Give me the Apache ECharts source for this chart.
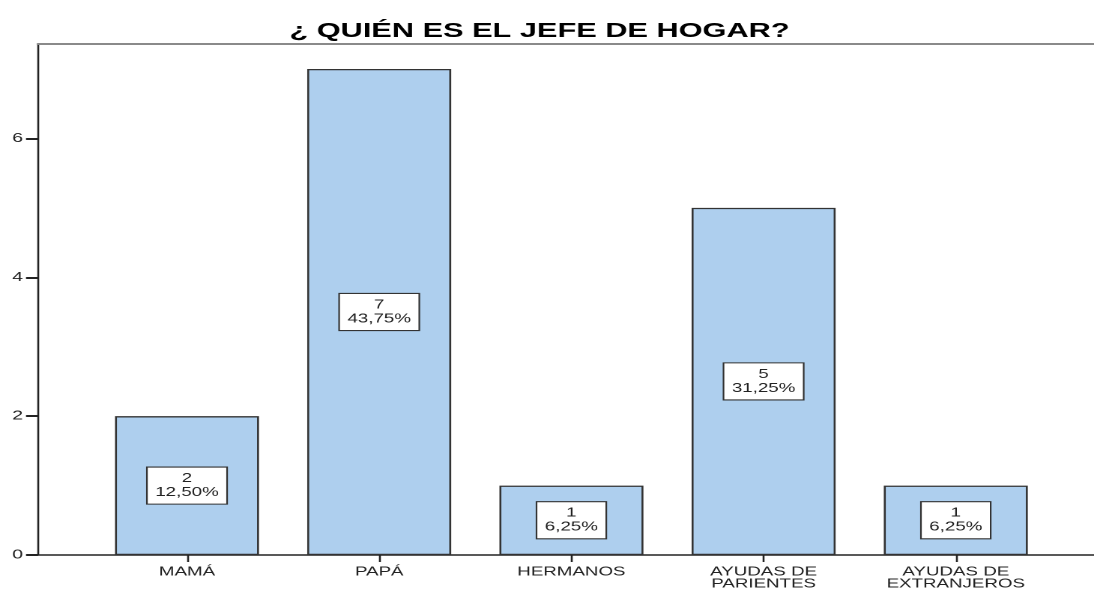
<!DOCTYPE html>
<html>
<head>
<meta charset="utf-8">
<script src="https://cdn.jsdelivr.net/npm/echarts@6/dist/echarts.min.js"></script>
<style>
  html, body { margin: 0; padding: 0; background: #fff; overflow: hidden; }
  /* the original output is stretched sideways, so draw narrow and widen */
  #chart1 { width: 730px; height: 592px; transform: scaleX(1.49863); transform-origin: 0 0; }
</style>
</head>
<body>
<div id="chart1"></div>
<script>
var categories = ["MAMÁ", "PAPÁ", "HERMANOS", "AYUDAS DE\nPARIENTES", "AYUDAS DE\nEXTRANJEROS"];
var counts = [2, 7, 1, 5, 1];
var percents = ["12,50%", "43,75%", "6,25%", "31,25%", "6,25%"];
var yTicks = [0, 2, 4, 6];

var sx = 1094 / 730; // horizontal stretch
var yMax = 7.36;

var chart_chart1 = echarts.init(document.getElementById("chart1"), null, {
  renderer: "canvas",
  devicePixelRatio: 2,
});

var option_chart1 = {
  animation: false,
  backgroundColor: "#ffffff",
  textStyle: { fontFamily: "Liberation Sans, Arial, sans-serif" },
  title: {
    text: "¿ QUIÉN ES EL JEFE DE HOGAR?",
    left: 532 / sx,
    textAlign: "center",
    top: 16,
    textStyle: { fontSize: 20.5, fontWeight: "bold", color: "#000" },
  },
  grid: [
    { left: 38 / sx, right: 0, top: 44, bottom: 37 },
    { left: 90.9 / sx, width: 961 / sx, top: 44, bottom: 37 },
  ],
  xAxis: [
    {
      // bottom frame line
      type: "value",
      gridIndex: 0,
      min: 0,
      max: 1,
      axisLine: { show: true, lineStyle: { color: "#222", width: 1.5 } },
      axisTick: { show: false },
      axisLabel: { show: false },
      splitLine: { show: false },
    },
    {
      // top frame line
      type: "value",
      gridIndex: 0,
      position: "top",
      min: 0,
      max: 1,
      axisLine: { show: true, lineStyle: { color: "#8a8a8a", width: 2 } },
      axisTick: { show: false },
      axisLabel: { show: false },
      splitLine: { show: false },
    },
    {
      type: "category",
      gridIndex: 1,
      data: categories,
      axisLine: { show: false },
      axisTick: { show: true, alignWithLabel: true, length: 7, lineStyle: { color: "#222", width: 1.3 } },
      axisLabel: { fontSize: 12.5, color: "#222", lineHeight: 12, margin: 11, interval: 0 },
      splitLine: { show: false },
    },
  ],
  yAxis: [
    {
      type: "value",
      gridIndex: 0,
      min: 0,
      max: yMax,
      interval: 2,
      axisLine: { show: true, lineStyle: { color: "#222", width: 1.3 } },
      axisTick: { show: true, length: 8, customValues: yTicks, lineStyle: { color: "#222", width: 2 } },
      axisLabel: { fontSize: 13, color: "#222", margin: 10, customValues: yTicks },
      splitLine: { show: false },
    },
    {
      type: "value",
      gridIndex: 1,
      min: 0,
      max: yMax,
      show: false,
    },
  ],
  series: [
    {
      type: "bar",
      xAxisIndex: 2,
      yAxisIndex: 1,
      data: counts,
      barWidth: 144 / sx,
      itemStyle: { color: "#aecfee", borderColor: "#333", borderWidth: 1.3 },
      label: {
        show: true,
        position: "inside",
        formatter: function (p) { return counts[p.dataIndex] + "\n" + percents[p.dataIndex]; },
        backgroundColor: "#fff",
        borderColor: "#333",
        borderWidth: 1.1,
        padding: [4, 5, 4, 5],
        fontSize: 12.5,
        lineHeight: 14,
        color: "#222",
        align: "center",
      },
    },
  ],
};
chart_chart1.setOption(option_chart1);
</script>
</body>
</html>
